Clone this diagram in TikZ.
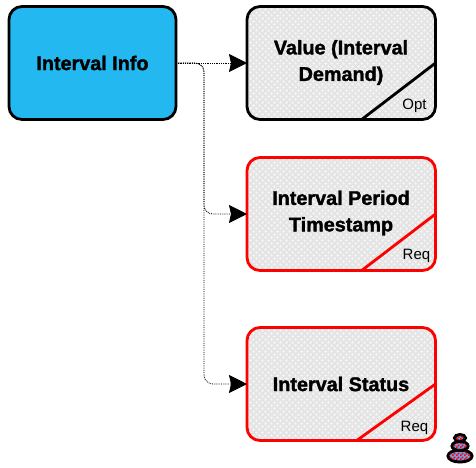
\documentclass[tikz,border=0pt]{standalone}
\usepackage{fontspec}
\setmainfont{Liberation Sans}
\newfontface\heavyface{Liberation Sans Bold}[FakeBold=1.6]
\usetikzlibrary{patterns,arrows.meta}
\definecolor{infoblue}{HTML}{24B8F0}
\definecolor{cardgray}{HTML}{E4E4E4}
\definecolor{reqred}{HTML}{FF0000}
\definecolor{stoneblue}{HTML}{6FA0F0}
\pgfdeclarepatternformonly{cardmesh}{\pgfqpoint{-1pt}{-1pt}}{\pgfqpoint{7pt}{7pt}}{\pgfqpoint{6pt}{6pt}}{%
  \pgfpathmoveto{\pgfqpoint{0pt}{1.5pt}}\pgfpathlineto{\pgfqpoint{1.5pt}{0pt}}\pgfpathlineto{\pgfqpoint{3pt}{1.5pt}}\pgfpathlineto{\pgfqpoint{1.5pt}{3pt}}\pgfpathclose
  \pgfpathmoveto{\pgfqpoint{3pt}{4.5pt}}\pgfpathlineto{\pgfqpoint{4.5pt}{3pt}}\pgfpathlineto{\pgfqpoint{6pt}{4.5pt}}\pgfpathlineto{\pgfqpoint{4.5pt}{6pt}}\pgfpathclose
  \pgfusepath{fill}}
\pgfdeclarepatternformonly{stonemesh}{\pgfqpoint{0pt}{0pt}}{\pgfqpoint{4pt}{4pt}}{\pgfqpoint{4pt}{4pt}}{%
  \pgfpathrectangle{\pgfqpoint{0pt}{0pt}}{\pgfqpoint{2pt}{2pt}}
  \pgfpathrectangle{\pgfqpoint{2pt}{2pt}}{\pgfqpoint{2pt}{2pt}}
  \pgfusepath{fill}}
\tikzset{
  cardbase/.style={minimum width=188.5pt,minimum height=113pt,rounded corners=13pt,line width=2.8pt,anchor=north west,inner sep=0pt,outer sep=0pt},
  optcard/.style={cardbase,draw=black},
  reqcard/.style={cardbase,draw=reqred},
  infocard/.style={cardbase,minimum width=167pt,draw=black,fill=infoblue},
  hatch/.style={pattern=cardmesh,pattern color=white,opacity=.6},
  title/.style={font=\heavyface\fontsize{19.8}{26.5}\selectfont,align=center,text=black,inner sep=0pt},
  tag/.style={font=\fontsize{15}{16}\selectfont,text=black,inner sep=0pt},
  link/.style={densely dotted,line width=0.8pt,rounded corners=9pt,-{Stealth[length=18pt,width=18pt,inset=2pt]}},
  slash/.style={line width=2.8pt},
  stone/.style={fill=stoneblue,draw=black,line width=3pt}
}
\begin{document}
\begin{tikzpicture}[x=1pt,y=-1pt]
\useasboundingbox (0,0) rectangle (476,467);
\node[infocard] (info) at (9,6.5) {};
\foreach \yy in {6.5,157.5,327.5}{
  \fill[cardgray,rounded corners=13pt] (247,\yy) rectangle ++(188.5,113);
  \fill[hatch,rounded corners=13pt] (247,\yy) rectangle ++(188.5,113);
}
\node[optcard] (val) at (247,6.5) {};
\node[reqcard] (per) at (247,157.5) {};
\node[reqcard] (sta) at (247,327.5) {};
\node[title] (infot) at (92.5,63) {Interval Info};
\node[title] (valt) at (341,62.5) {Value (Interval\\Demand)};
\node[title] (pert) at (341,213) {Interval Period\\Timestamp};
\node[title] (stat) at (341,384) {Interval Status};
\node[tag] (valg) at (414.5,105.5) {Opt};
\node[tag] (perg) at (416.5,256) {Req};
\node[tag] (stag) at (414.5,428) {Req};
\coordinate (c1) at (361,120);
\coordinate (c2) at (435.5,63);
\coordinate (c3) at (361,271);
\coordinate (c4) at (435.5,214);
\coordinate (c5) at (356,441);
\coordinate (c6) at (435.5,384);
\draw[slash,black] (c1) -- (c2);
\draw[slash,reqred] (c3) -- (c4);
\draw[slash,reqred] (c5) -- (c6);
\draw[link] (info.east) -- (val.west);
\draw[link] (info.east) -- (204,63) -- (204,214) -- (per.west);
\draw[link] (info.east) -- (204,63) -- (204,384) -- (sta.west);
\foreach \cx/\cy/\rx/\ry in {460/456/12/6,460/446/8/4.5,460/438/5.5/3.5}{
  \filldraw[stone] (\cx,\cy) ellipse[x radius=\rx,y radius=\ry];
  \fill[pattern=stonemesh,pattern color=reqred] (\cx,\cy) ellipse[x radius=\rx-1,y radius=\ry-1];
}
\end{tikzpicture}
\end{document}
